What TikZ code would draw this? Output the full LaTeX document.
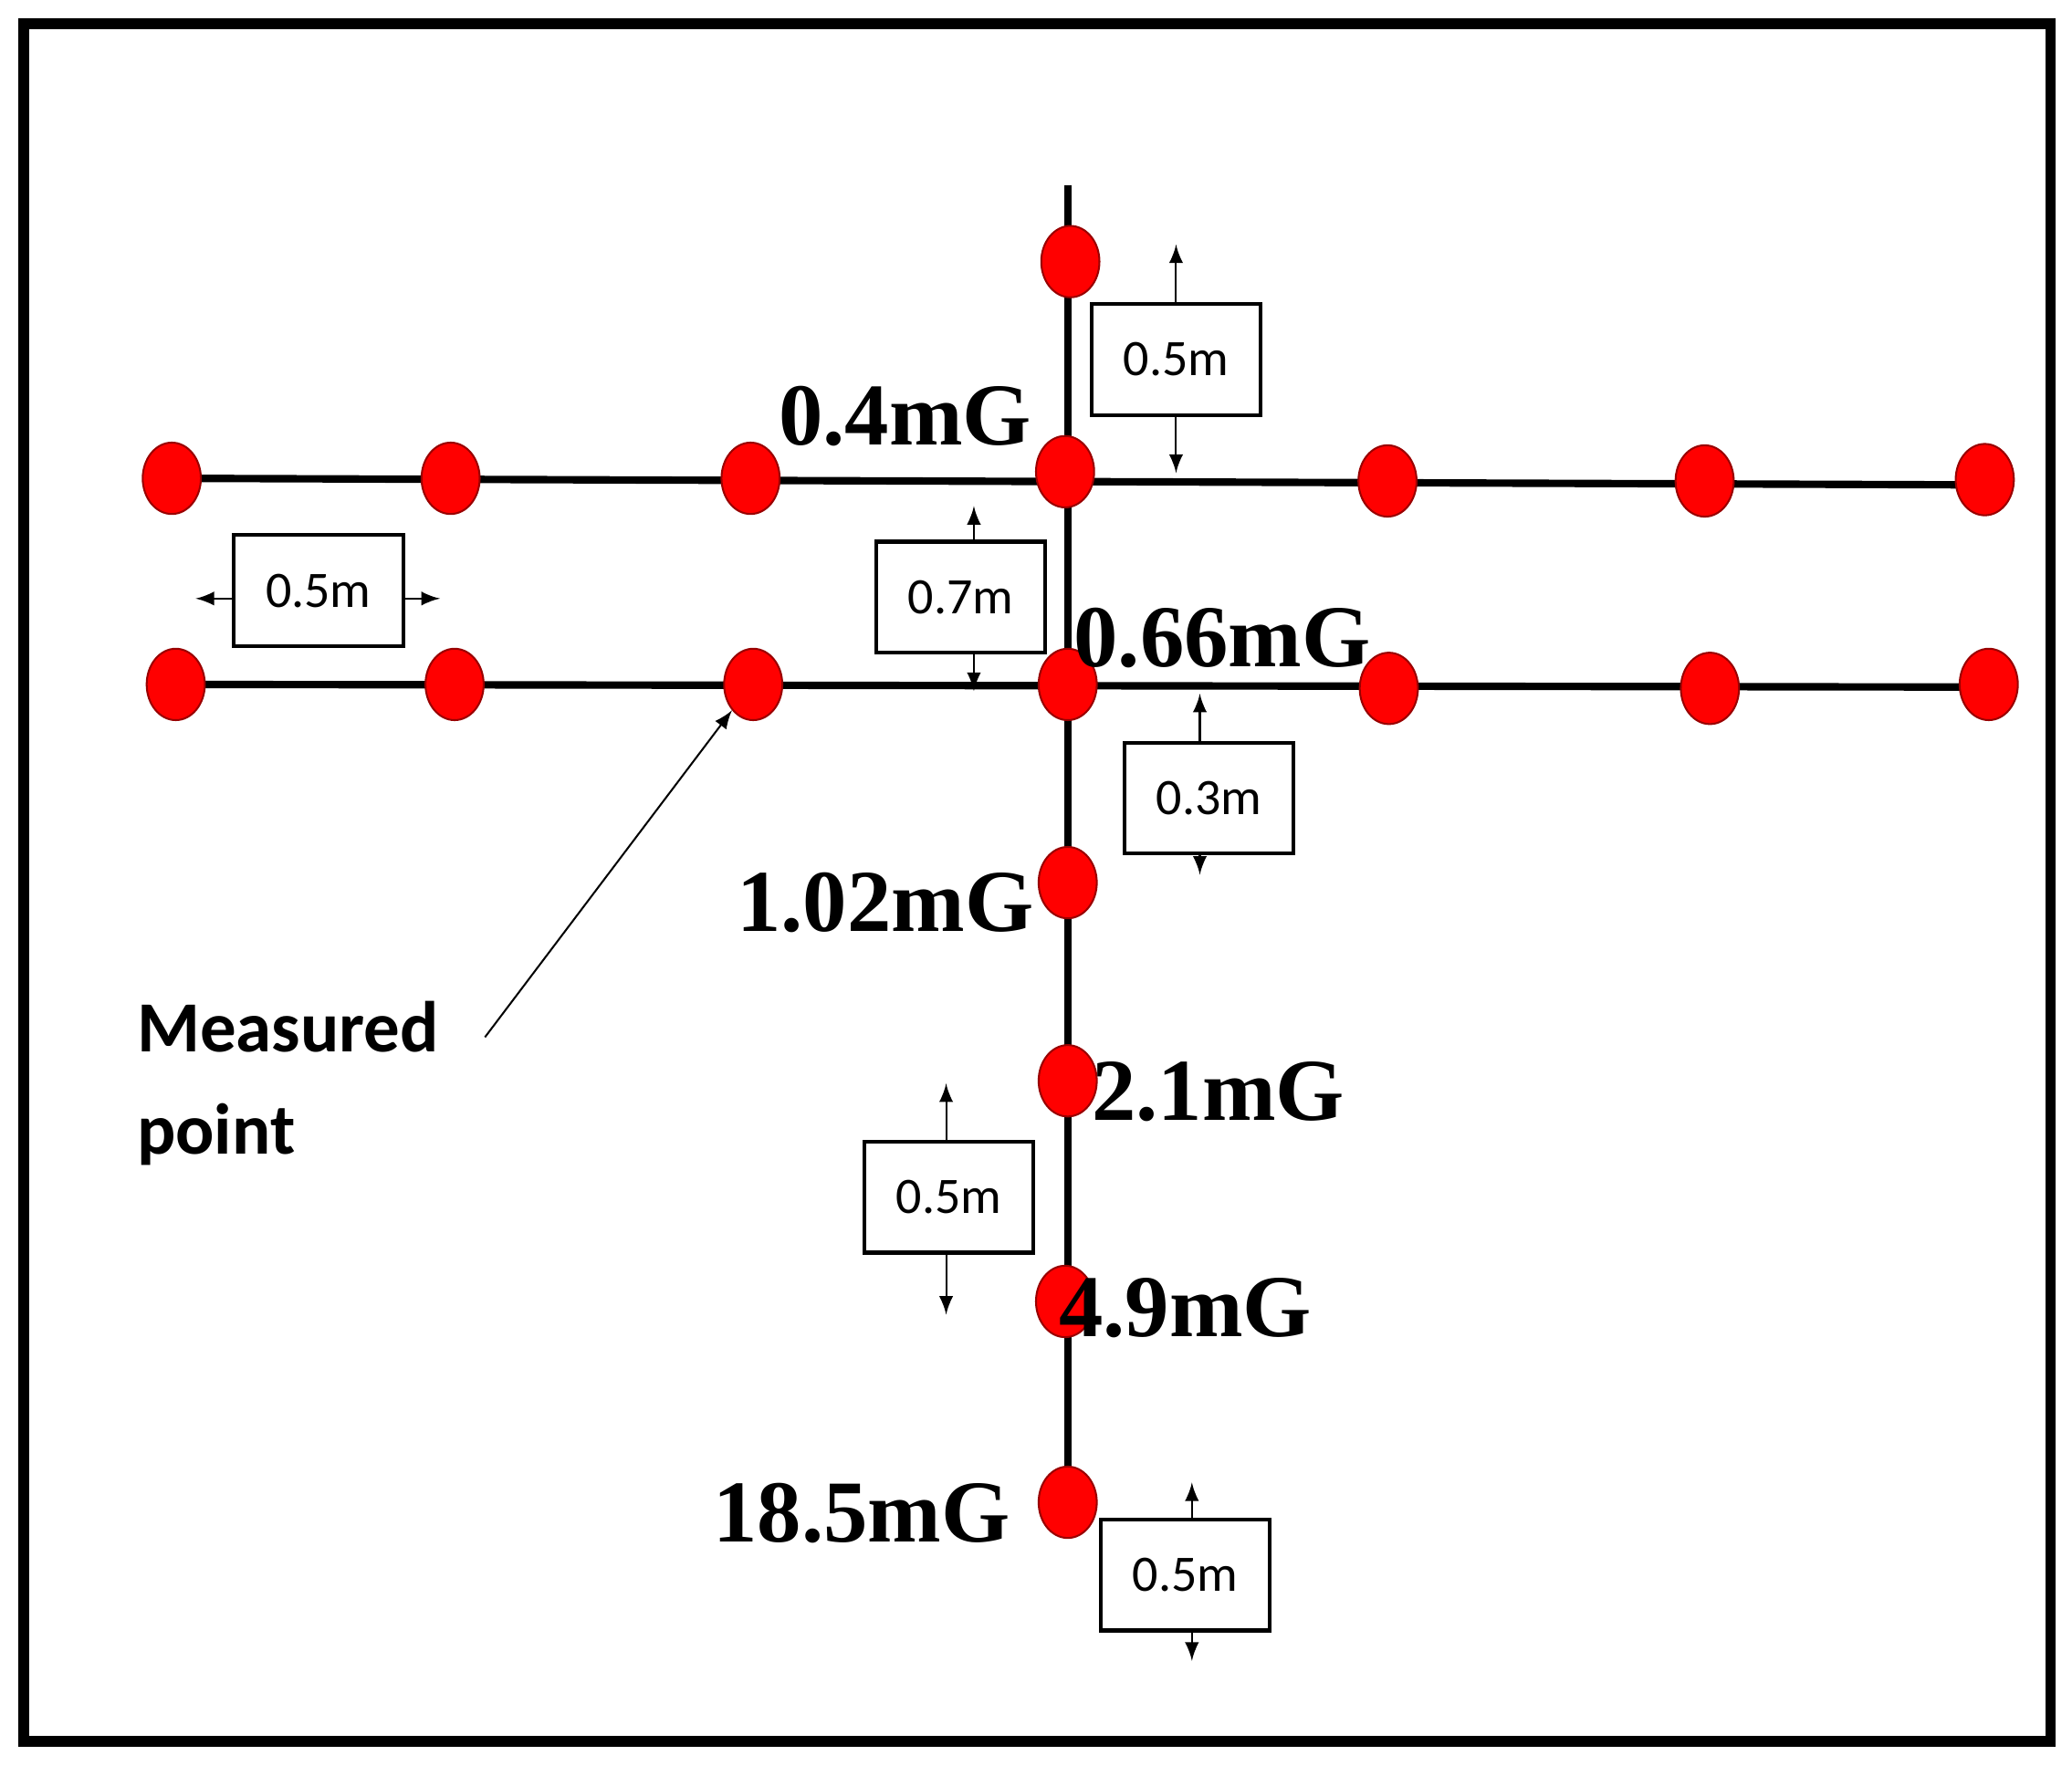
\documentclass[tikz,border=0pt]{standalone}
\usetikzlibrary{shapes.geometric}
\usepackage{fontspec}
\setmainfont{Liberation Serif}
\newfontfamily\carfont{Carlito}
\begin{document}
\begin{tikzpicture}[x=0.01cm,y=-0.01cm,
 dot/.style={ellipse,draw=red!60!black,fill=red,minimum width=0.44cm,minimum height=0.54cm,inner sep=0},
 val/.style={font=\fontsize{19}{20}\selectfont\bfseries},
 box/.style={draw,thick,minimum width=1.28cm,minimum height=0.84cm,font=\carfont\fontsize{11}{13}\selectfont},
 ar/.style={-latex,thin},
 line/.style={line width=1.6pt}]
\useasboundingbox (0,0) rectangle (1568,1336);
\draw[line width=2.2pt] (18,18) rectangle (1552,1318);
\coordinate (vt) at (808,140);
\coordinate (ve) at (808,1137);
\draw[line] (vt) -- (ve);
\coordinate (a0) at (130,362); \coordinate (a6) at (1502,367);
\coordinate (b0) at (133,518); \coordinate (b6) at (1505,520);
\draw[line] (a0)--(a6); \draw[line] (b0)--(b6);
\foreach \x/\y [count=\i] in {130/362,341/362,568/362,806/357,1050/364,1290/364,1502/363}
  \node[dot] (r\i) at (\x,\y) {};
\foreach \x/\y [count=\i] in {133/518,344/518,570/518,808/518,1051/521,1294/521,1505/518}
  \node[dot] (s\i) at (\x,\y) {};
\foreach \x/\y [count=\i] in {810/198,808/668,808/818,806/985,808/1137}
  \node[dot] (v\i) at (\x,\y) {};
\node[val] (l1) at (685,315) {0.4mG};
\node[val] (l2) at (925,483) {0.66mG};
\node[val] (l3) at (670,683) {1.02mG};
\node[val] (l4) at (922,826) {2.1mG};
\node[val] (l5) at (897,990) {4.9mG};
\node[val] (l6) at (652,1145) {18.5mG};
\node[box] (k1) at (890,272) {0.5m};
\coordinate (k1a) at (890,185); \coordinate (k1b) at (890,358);
\draw[ar] (k1.north)--(k1a); \draw[ar] (k1.south)--(k1b);
\node[box] (k2) at (241,447) {0.5m};
\coordinate (k2a) at (148,453); \coordinate (k2b) at (333,453);
\draw[ar] (k2.west|-k2a)--(k2a); \draw[ar] (k2.east|-k2b)--(k2b);
\node[box] (k3) at (727,452) {0.7m};
\coordinate (k3a) at (737,383); \coordinate (k3b) at (737,523);
\draw[ar] (k3.north-|k3a)--(k3a); \draw[ar] (k3.south-|k3b)--(k3b);
\node[box] (k4) at (915,604) {0.3m};
\coordinate (k4a) at (908,525); \coordinate (k4b) at (908,662);
\draw[ar] (k4.north-|k4a)--(k4a); \draw[ar] (k4.south-|k4b)--(k4b);
\node[box] (k5) at (718,906) {0.5m};
\coordinate (k5a) at (716,820); \coordinate (k5b) at (716,995);
\draw[ar] (k5.north-|k5a)--(k5a); \draw[ar] (k5.south-|k5b)--(k5b);
\node[box] (k6) at (897,1192) {0.5m};
\coordinate (k6a) at (902,1122); \coordinate (k6b) at (902,1257);
\draw[ar] (k6.north-|k6a)--(k6a); \draw[ar] (k6.south-|k6b)--(k6b);
\node[font=\carfont\bfseries\fontsize{15.5}{22}\selectfont,align=left,anchor=north west,inner sep=0] (mp) at (103,757) {Measured\\point};
\coordinate (mpa) at (367,785);
\draw[-latex,thin] (mpa) -- (s3.south west);
\end{tikzpicture}
\end{document}
